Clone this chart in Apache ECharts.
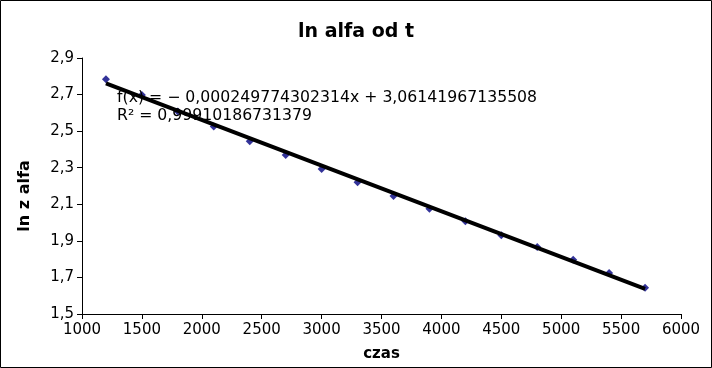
<!DOCTYPE html>
<html>
<head>
<meta charset="utf-8">
<script src="https://cdn.jsdelivr.net/npm/echarts@6/dist/echarts.min.js"></script>
<style>
html,body{margin:0;padding:0;background:#fff;}
#chart{width:712px;height:368px;}
</style>
</head>
<body>
<div id="chart"></div>
<script>
const timeValues = [1200, 1500, 1800, 2100, 2400, 2700, 3000, 3300, 3600, 3900, 4200, 4500, 4800, 5100, 5400, 5700];
const lnAlfaValues = [2.784, 2.698, 2.607, 2.525, 2.445, 2.369, 2.293, 2.220, 2.145, 2.076, 2.007, 1.931, 1.866, 1.797, 1.724, 1.643];
const trendX = [1200, 5700];
const trendY = [2.7617, 1.6377];
const equationText = 'f(x) = \u2212 0,000249774302314x + 3,06141967135508';
const r2Text = 'R\u00b2 = 0,99910186731379';
const titleText = 'ln alfa od t';
const xAxisName = 'czas';
const yAxisName = 'ln z alfa';

const font = 'DejaVu Sans';
const chart = echarts.init(document.getElementById('chart'));
chart.setOption({
  animation: false,
  backgroundColor: '#ffffff',
  title: {
    text: titleText, left: 'center', top: 18,
    textStyle: {fontFamily: font, fontSize: 19, fontWeight: 'bold', color: '#000'}
  },
  grid: {left: 82, right: 31, top: 58, bottom: 54},
  xAxis: {
    type: 'value', min: 1000, max: 6000, interval: 500,
    name: xAxisName, nameLocation: 'middle', nameGap: 33,
    nameTextStyle: {fontFamily: font, fontSize: 15, fontWeight: 'bold', color: '#000'},
    axisLine: {show: true, lineStyle: {color: '#000', width: 1}},
    axisTick: {show: true, length: 5, lineStyle: {color: '#000'}},
    axisLabel: {fontFamily: font, fontSize: 15, color: '#000', margin: 9,
      formatter: v => String(v)},
    splitLine: {show: false}
  },
  yAxis: {
    type: 'value', min: 1.5, max: 2.9, interval: 0.2,
    name: yAxisName, nameLocation: 'middle', nameGap: 49, nameRotate: 90,
    nameTextStyle: {fontFamily: font, fontSize: 16, fontWeight: 'bold', color: '#000',
      padding: [0, 20, 0, 0]},
    axisLine: {show: true, lineStyle: {color: '#000', width: 1}},
    axisTick: {show: true, length: 5, lineStyle: {color: '#000'}},
    axisLabel: {fontFamily: font, fontSize: 15, color: '#000', margin: 8,
      formatter: v => v.toFixed(1).replace('.', ',')},
    splitLine: {show: false}
  },
  series: [
    {
      type: 'scatter', symbol: 'diamond', symbolSize: 8,
      itemStyle: {color: '#000080'},
      data: timeValues.map((x, i) => [x, lnAlfaValues[i]]),
      z: 2
    },
    {
      type: 'line', symbol: 'none',
      lineStyle: {color: '#000', width: 4},
      data: trendX.map((x, i) => [x, trendY[i]]),
      z: 3
    }
  ],
  graphic: [
    {type: 'rect', shape: {x: 0.5, y: 0.5, width: 711, height: 367},
     style: {fill: 'none', stroke: '#000', lineWidth: 1}, z: 10},
    {type: 'text', left: 117, top: 90, z: 5,
     style: {text: equationText, fontFamily: font, fontSize: 15.7, fill: '#000'}},
    {type: 'text', left: 117, top: 108, z: 5,
     style: {text: r2Text, fontFamily: font, fontSize: 15.7, fill: '#000'}}
  ]
});
</script>
</body>
</html>
